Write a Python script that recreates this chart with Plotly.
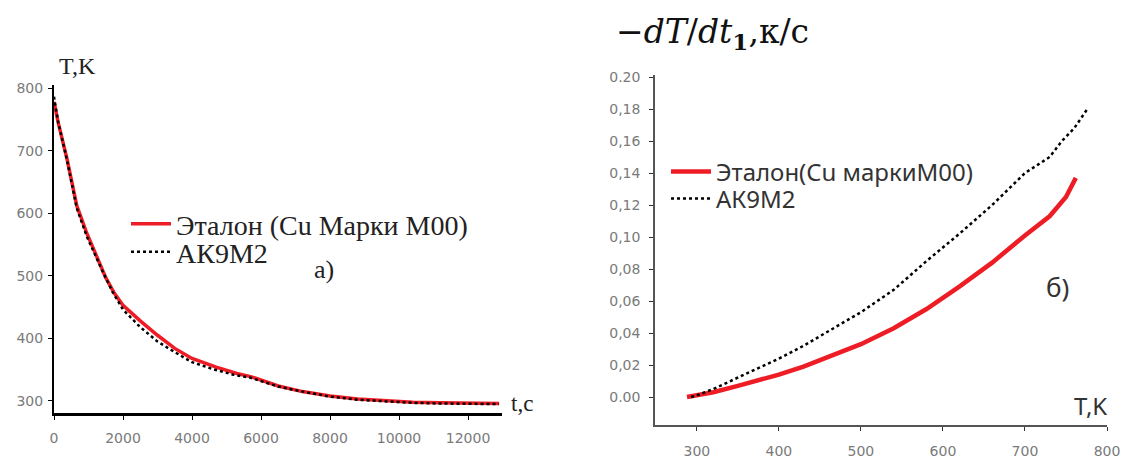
import plotly.graph_objects as go

# ---- Panel a): cooling curves T(t) ----
t_ref = [0, 120, 380, 660, 950, 1130, 1300, 1500, 1750, 2000, 2500, 3000, 3500, 4000,
         4700, 5300, 5700, 6500, 7200, 8000, 8800, 9600, 10400, 11200, 12000, 12900]
T_ref = [778, 745, 686, 612, 568, 545, 522, 497, 472, 453, 428, 405, 384, 368,
         354, 344, 339, 324, 315, 308, 303, 300, 298, 297, 296, 296]

t_ak = [0, 120, 380, 660, 950, 1150, 1400, 1700, 2000, 2500, 3000, 3500, 4000, 4600,
        5200, 5700, 6500, 7200, 8000, 8800, 9600, 10400, 11200, 12000, 12900]
T_ak = [786, 746, 684, 608, 563, 538, 508, 474, 446, 418, 395, 378, 362, 351,
        342, 337, 323, 315, 307, 302, 299, 297, 296, 295, 295]

# ---- Panel b): cooling rate -dT/dt vs T ----
Tb_ref = [288, 300, 320, 350, 380, 400, 430, 460, 500, 540, 580, 620, 660, 700, 730, 750, 762]
v_ref = [0.000, 0.001, 0.003, 0.007, 0.011, 0.014, 0.019, 0.025, 0.033, 0.043, 0.055,
         0.069, 0.084, 0.101, 0.113, 0.125, 0.137]

Tb_ak = [293, 300, 320, 350, 380, 400, 430, 460, 500, 540, 580, 620, 660, 700, 730, 745, 760, 776]
v_ak = [0.000, 0.001, 0.005, 0.012, 0.019, 0.024, 0.032, 0.041, 0.053, 0.067, 0.085,
        0.102, 0.120, 0.140, 0.150, 0.160, 0.168, 0.180]

# tick labels
xa_ticks = [0, 2000, 4000, 6000, 8000, 10000, 12000]
xa_labels = ["0", "2000", "4000", "6000", "8000", "10000", "12000"]
ya_ticks = [300, 400, 500, 600, 700, 800]
ya_labels = ["300", "400", "500", "600", "700", "800"]
xb_ticks = [300, 400, 500, 600, 700, 800]
xb_labels = ["300", "400", "500", "600", "700", "800"]
yb_ticks = [0.00, 0.02, 0.04, 0.06, 0.08, 0.10, 0.12, 0.14, 0.16, 0.18, 0.20]
yb_labels = ["0.00", "0,02", "0,04", "0,06", "0,08", "0,10", "0,12", "0,14", "0,16", "0,18", "0.20"]

W, H = 1121, 458
def px(x):
    return x / W
def py(y):
    return (H - y) / H

RED = "#ee1c24"
SERIF = "Liberation Serif, Times New Roman, serif"
SANS = "Noto Sans, Open Sans, sans-serif"
fig = go.Figure()

fig.add_trace(go.Scatter(x=t_ref, y=T_ref, mode="lines", name="Эталон (Cu Марки M00)",
                         line=dict(color=RED, width=3.5), xaxis="x", yaxis="y", legend="legend"))
fig.add_trace(go.Scatter(x=t_ak, y=T_ak, mode="lines", name="АК9М2",
                         line=dict(color="black", width=2.5, dash="dot"), xaxis="x", yaxis="y",
                         legend="legend2"))
fig.add_trace(go.Scatter(x=Tb_ref, y=v_ref, mode="lines", name="Эталон(Cu маркиM00)",
                         line=dict(color=RED, width=4.5), xaxis="x2", yaxis="y2", legend="legend3"))
fig.add_trace(go.Scatter(x=Tb_ak, y=v_ak, mode="lines", name="АК9М2",
                         line=dict(color="black", width=2.5, dash="dot"), xaxis="x2", yaxis="y2",
                         legend="legend4"))

tickfont = dict(family="DejaVu Sans", size=14, color="#7a7a7a")
common = dict(showgrid=False, zeroline=False, fixedrange=True, ticks="outside", ticklen=4,
              tickfont=tickfont, showline=True, automargin=False, ticklabeloverflow="allow")

def leg(x, y, font):
    return dict(x=px(x), y=py(y), xanchor="left", yanchor="middle", visible=True,
                bgcolor="rgba(0,0,0,0)", font=font, tracegroupgap=0, itemwidth=40)

left_leg_font = dict(family=SERIF, size=28, color="#222")
right_leg_font = dict(family=SANS, size=24, color="#333")

fig.update_layout(
    width=W, height=H, margin=dict(l=0, r=0, t=0, b=0, autoexpand=False),
    paper_bgcolor="white", plot_bgcolor="white", showlegend=True,
    xaxis=dict(domain=[px(54), px(502)], range=[0, 12985], anchor="y",
               tickvals=xa_ticks, ticktext=xa_labels, linecolor="black", linewidth=3,
               tickcolor="black", ticklabelstandoff=6, **common),
    yaxis=dict(domain=[py(413), py(85)], range=[280.8, 804.8], anchor="x",
               tickvals=ya_ticks, ticktext=ya_labels, linecolor="black", linewidth=2,
               tickcolor="black", ticklabelstandoff=2, **common),
    xaxis2=dict(domain=[px(655), px(1107)], range=[249, 800], anchor="y2",
                tickvals=xb_ticks, ticktext=xb_labels, linecolor="#555", linewidth=1.5,
                tickcolor="#333", ticklabelstandoff=8, **common),
    yaxis2=dict(domain=[py(425), py(75)], range=[-0.0175, 0.2013], anchor="x2",
                tickvals=yb_ticks, ticktext=yb_labels, linecolor="#555", linewidth=1.5,
                tickcolor="#333", ticklabelstandoff=6, **common),
    legend=leg(126, 224, left_leg_font),
    legend2=leg(126, 252, left_leg_font),
    legend3=leg(666, 172, right_leg_font),
    legend4=leg(666, 199, right_leg_font),
    annotations=[
        dict(text="T,K", x=px(57), y=py(66), xref="paper", yref="paper", xanchor="left",
             yanchor="middle", showarrow=False, font=dict(family=SERIF, size=24, color="#222")),
        dict(text="t,c", x=px(509), y=py(403), xref="paper", yref="paper", xanchor="left",
             yanchor="middle", showarrow=False, font=dict(family=SERIF, size=23, color="#222")),
        dict(text="a)", x=px(312), y=py(270), xref="paper", yref="paper", xanchor="left",
             yanchor="middle", showarrow=False, font=dict(family=SERIF, size=26, color="#222")),
        dict(text="−<i>dT</i>/<i>dt</i><sub><b>1</b></sub>,к/с", x=px(614), y=py(33), xref="paper",
             yref="paper", xanchor="left", yanchor="middle", showarrow=False,
             font=dict(family="DejaVu Serif", size=33, color="#111")),
        dict(text="T,K", x=px(1072), y=py(405), xref="paper", yref="paper", xanchor="left",
             yanchor="middle", showarrow=False, font=dict(family=SANS, size=24, color="#333")),
        dict(text="б)", x=px(1044), y=py(287), xref="paper", yref="paper", xanchor="left",
             yanchor="middle", showarrow=False, font=dict(family=SANS, size=26, color="#333")),
    ],
)

fig.write_html("out.html")
